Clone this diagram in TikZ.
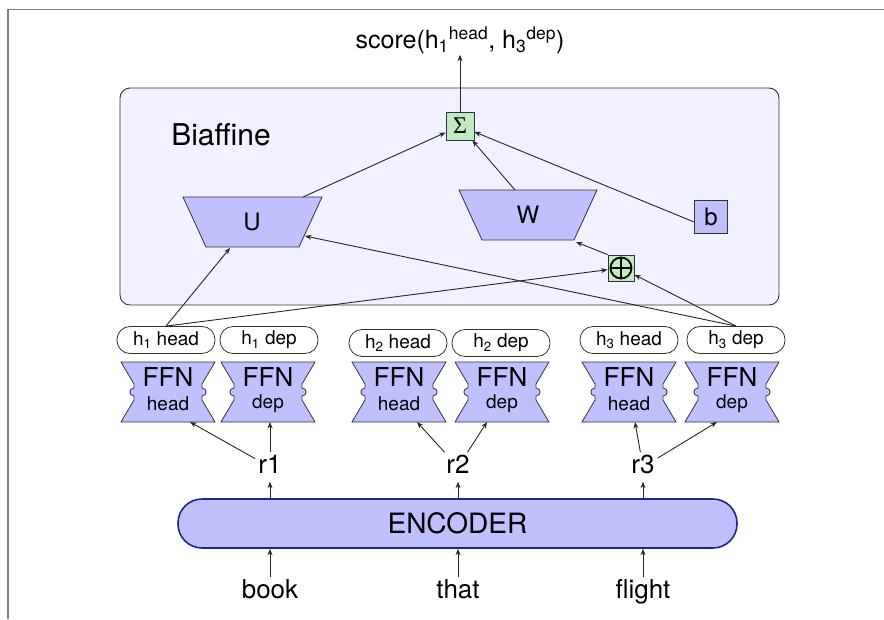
\documentclass[tikz,border=0pt]{standalone}
\usepackage{fontspec}
\setmainfont{TeX Gyre Heros}
\newfontfamily\serifgk{Liberation Serif}
\usetikzlibrary{arrows.meta}
\definecolor{bfill}{RGB}{192,192,255}
\definecolor{bgbox}{RGB}{241,241,255}
\definecolor{gfill}{RGB}{190,236,192}
\definecolor{encb}{RGB}{30,40,140}
\definecolor{edgec}{RGB}{50,50,60}
\newcommand\FFNbox[4]{%
  \begin{scope}[shift={(#2,#3)}]
    \draw[edgec, line width=0.8pt, fill=bfill]
      (-47,-30) -- (47,-30) -- (34,-8) -- (34,-4)
      .. controls (39.5,-4) and (39.5,4) .. (34,4)
      -- (34,8) -- (47,30) -- (-47,30) -- (-34,8) -- (-34,4)
      .. controls (-39.5,4) and (-39.5,-4) .. (-34,-4)
      -- (-34,-8) -- cycle;
    \node[inner sep=0pt, font=\fontsize{26}{26}\selectfont] (#1) at (0,-15) {FFN};
    \node[inner sep=0pt, font=\fontsize{19}{19}\selectfont] (#1s) at (0,12) {#4};
  \end{scope}}
\begin{document}
\begin{tikzpicture}[x=1pt,y=-1pt,
  arr/.style={-{Stealth[length=6.5pt,width=5pt]}, line width=0.9pt, draw=black!85},
  pill/.style={draw=black!80, line width=0.8pt, fill=white, rounded corners=13pt,
    minimum width=98pt, minimum height=27pt, inner sep=0pt,
    font=\fontsize{19}{19}\selectfont},
  lab/.style={inner sep=3pt, text height=18pt, text depth=5pt, font=\fontsize{26}{26}\selectfont},
  sq/.style={draw=edgec, line width=0.8pt, inner sep=0pt},
  trap/.style={draw=edgec, line width=0.8pt, fill=bfill}]
\useasboundingbox (0,0) rectangle (884,619);
% frame
\draw[gray, line width=1.8pt] (8,619) -- (8,9.5) -- (884,9.5);
% biaffine box
\draw[edgec, line width=0.9pt, fill=bgbox, rounded corners=10pt] (120,88) rectangle (779,305);
\node[font=\fontsize{30}{30}\selectfont, inner sep=0pt] (biaf) at (221,135) {Biaffine};
% score
\node[font=\fontsize{25}{25}\selectfont, inner sep=1pt] (score) at (460,40)
  {score(h\textsubscript{1}\textsuperscript{head}, h\textsubscript{3}\textsuperscript{dep})};
% sigma
\node[sq, fill=gfill, minimum size=28pt, font=\serifgk\fontsize{24}{24}\selectfont] (sig) at (460,126) {Σ};
% U and W
\draw[trap] (183,197) -- (322,197) -- (299,247) -- (206,247) -- cycle;
\node[font=\fontsize{24}{24}\selectfont] (U) at (252,222) {U};
\draw[trap] (459,190) -- (597,190) -- (574,240) -- (482,240) -- cycle;
\node[font=\fontsize{24}{24}\selectfont] (W) at (528,215) {W};
\coordinate (Ut) at (303,197);
\coordinate (Ub) at (230,248);
\coordinate (Ur) at (305,236);
\coordinate (Wt) at (515,190);
\coordinate (Wbr) at (576,242);
% b
\node[sq, fill=bfill, minimum size=33pt, font=\fontsize{24}{24}\selectfont] (b) at (711,217) {b};
% plus
\node[sq, fill=gfill, minimum size=26pt] (plus) at (621,268) {};
\draw[black, line width=1.8pt] (plus.center) circle (10.5pt);
\draw[black, line width=1.8pt] ([yshift=10.5pt]plus.center) -- ([yshift=-10.5pt]plus.center);
\draw[black, line width=1.8pt] ([xshift=-10.5pt]plus.center) -- ([xshift=10.5pt]plus.center);
% pills
\node[pill] (h1h) at (166,340) {h\textsubscript{1} head};
\node[pill] (h1d) at (269,340) {h\textsubscript{1} dep};
\node[pill] (h2h) at (398,343) {h\textsubscript{2} head};
\node[pill] (h2d) at (501,343) {h\textsubscript{2} dep};
\node[pill] (h3h) at (629,340) {h\textsubscript{3} head};
\node[pill] (h3d) at (736,340) {h\textsubscript{3} dep};
% FFNs
\FFNbox{f1h}{168}{392}{head}
\FFNbox{f1d}{268}{392}{dep}
\FFNbox{f2h}{399}{392}{head}
\FFNbox{f2d}{502}{392}{dep}
\FFNbox{f3h}{629}{392}{head}
\FFNbox{f3d}{732}{392}{dep}
\coordinate (f1hb) at (190,422);
\coordinate (f1db) at (270,422);
\coordinate (f2hb) at (417,422);
\coordinate (f2db) at (487,422);
\coordinate (f3hb) at (635,422);
\coordinate (f3db) at (717,422);
% r labels
\node[lab] (r1) at (270,467) {r1};
\node[lab] (r2) at (458,467) {r2};
\node[lab] (r3) at (643,467) {r3};
% encoder
\node[draw=encb, line width=1.6pt, fill=bfill, rounded corners=24pt,
  minimum width=559pt, minimum height=49pt, font=\fontsize{28}{28}\selectfont] (enc) at (457.5,523.5) {ENCODER};
% words
\node[lab] (w1) at (270,592) {book};
\node[lab] (w2) at (458,592) {that};
\node[lab] (w3) at (643,592) {flight};
% connectors
\draw[arr] (sig.north) -- (score.south);
\draw[arr] (Ut) -- (sig);
\draw[arr] (Wt) -- (sig);
\draw[arr] ([yshift=-5pt]b.west) -- (sig);
\draw[arr] (plus.north west) -- (Wbr);
\draw[arr] (h1h.north) -- (Ub);
\draw[arr] (h1h.north) -- (plus);
\draw[arr] (h3d.north) -- (Ur);
\draw[arr] (h3d.north) -- (plus);
\draw[arr] (r1) -- (f1hb);
\draw[arr] (r1) -- (f1db);
\draw[arr] (r2) -- (f2hb);
\draw[arr] (r2) -- (f2db);
\draw[arr] (r3) -- (f3hb);
\draw[arr] (r3) -- (f3db);
\draw[arr] (enc.north -| r1) -- (r1);
\draw[arr] (enc.north -| r2) -- (r2);
\draw[arr] (enc.north -| r3) -- (r3);
\draw[arr] (w1) -- (enc.south -| w1);
\draw[arr] (w2) -- (enc.south -| w2);
\draw[arr] (w3) -- (enc.south -| w3);
\end{tikzpicture}
\end{document}
